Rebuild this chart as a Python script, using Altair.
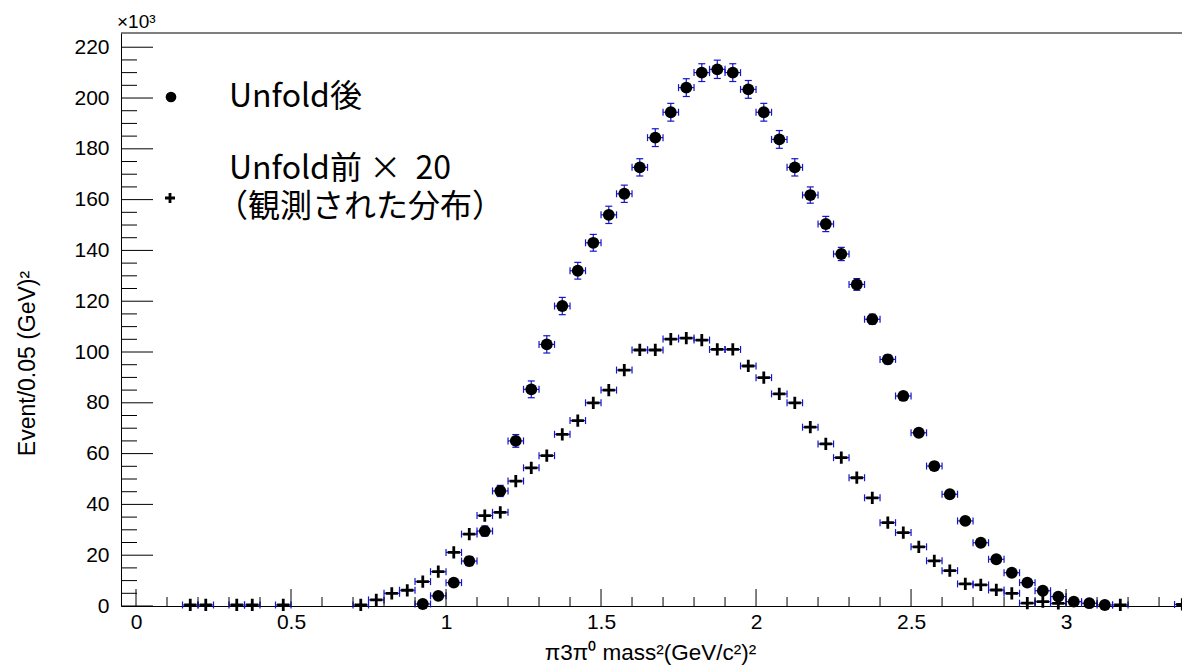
import altair as alt
import pandas as pd

# ---------------- data ----------------
# Unfold後 (filled circles), bin width 0.05, values in units of 10^3
x_after = [0.925, 0.975, 1.025, 1.075, 1.125, 1.175, 1.225, 1.275, 1.325, 1.375,
           1.425, 1.475, 1.525, 1.575, 1.625, 1.675, 1.725, 1.775, 1.825, 1.875,
           1.925, 1.975, 2.025, 2.075, 2.125, 2.175, 2.225, 2.275, 2.325, 2.375,
           2.425, 2.475, 2.525, 2.575, 2.625, 2.675, 2.725, 2.775, 2.825, 2.875,
           2.925, 2.975, 3.025, 3.075, 3.125]
y_after = [0.8, 4.0, 9.2, 17.7, 29.5, 45.3, 65.0, 85.3, 103.0, 118.1,
           132.0, 143.0, 154.0, 162.3, 172.7, 184.4, 194.4, 204.1, 210.0, 211.3,
           210.0, 203.4, 194.4, 183.7, 172.7, 161.8, 150.4, 138.6, 126.6, 112.9,
           97.1, 82.7, 68.2, 55.1, 44.0, 33.5, 24.9, 18.4, 13.1, 9.2,
           6.0, 3.7, 1.7, 1.1, 0.4]
e_after = [0.6, 1.0, 1.5, 1.8, 2.0, 2.2, 2.5, 3.3, 3.4, 3.4,
           3.3, 3.3, 3.4, 3.4, 3.4, 3.5, 3.5, 3.5, 3.5, 3.6,
           3.5, 3.5, 3.5, 3.5, 3.4, 3.2, 3.0, 2.6, 2.3, 2.0,
           1.8, 1.6, 1.4, 1.3, 1.2, 1.0, 0.9, 0.8, 0.7, 0.6,
           0.5, 0.4, 0.3, 0.3, 0.2]

# Unfold前 × 20 (crosses)
x_before = [0.175, 0.225, 0.325, 0.375, 0.475, 0.725, 0.775, 0.825, 0.875, 0.925,
            0.975, 1.025, 1.075, 1.125, 1.175, 1.225, 1.275, 1.325, 1.375, 1.425,
            1.475, 1.525, 1.575, 1.625, 1.675, 1.725, 1.775, 1.825, 1.875, 1.925,
            1.975, 2.025, 2.075, 2.125, 2.175, 2.225, 2.275, 2.325, 2.375, 2.425,
            2.475, 2.525, 2.575, 2.625, 2.675, 2.725, 2.775, 2.825, 2.875, 2.925,
            2.975, 3.175, 3.375]
y_before = [0.4, 0.4, 0.4, 0.4, 0.4, 0.4, 2.4, 5.0, 6.2, 9.6,
            13.5, 21.1, 28.3, 35.6, 36.9, 49.2, 54.4, 59.2, 67.6, 73.0,
            80.0, 85.0, 92.9, 100.8, 100.8, 105.1, 105.5, 104.7, 101.0, 101.0,
            94.5, 89.9, 83.5, 80.0, 70.4, 63.8, 58.4, 50.5, 42.6, 32.8,
            28.9, 23.3, 17.8, 13.9, 8.7, 8.3, 6.3, 5.0, 1.1, 1.7,
            1.0, 0.4, 0.6]

HALF_BIN = 0.025

x_major = [0, 0.5, 1.0, 1.5, 2.0, 2.5, 3.0]
x_minor = [0.1, 0.2, 0.3, 0.4, 0.6, 0.7, 0.8, 0.9, 1.1, 1.2, 1.3, 1.4, 1.6, 1.7,
           1.8, 1.9, 2.1, 2.2, 2.3, 2.4, 2.6, 2.7, 2.8, 2.9, 3.1, 3.2, 3.3]
y_major = [0, 20, 40, 60, 80, 100, 120, 140, 160, 180, 200, 220]
y_minor = [v + d for v in range(0, 221, 20) for d in (5, 10, 15) if v + d < 225]

legend_after = "Unfold後"
legend_before = "Unfold前 ×\u00a0 20"
legend_before2 = "（観測された分布）"
x_title = "π3π⁰ mass²(GeV/c²)²"
y_title = "Event/0.05 (GeV)²"
exp_label = "×10³"

# ---------------- layout ----------------
W, H = 1061, 573
PAD_L, PAD_T = 121, 33
BLUE = "#1515cc"
ROOT_FONT = "Liberation Sans"
JP_FONT = "Noto Sans CJK JP"

xs = alt.Scale(domain=[-0.0484, 3.374], nice=False, zero=False)
ys = alt.Scale(domain=[0, 225.6], nice=False, zero=False)

x_axis = alt.Axis(values=x_major, format="~g", ticks=False, tickSize=0, grid=False,
                  labelFont=ROOT_FONT, labelFontSize=21, labelColor="black",
                  labelPadding=5, domainColor="black", domainWidth=1,
                  titleFont=ROOT_FONT, titleFontSize=22.5, titleFontWeight="normal",
                  titleColor="black", titleY=46, titleBaseline="middle",
                  titleX=529, titleAnchor="middle", labelFlush=False)
y_axis = alt.Axis(values=y_major, ticks=False, tickSize=0, grid=False,
                  labelFont=ROOT_FONT, labelFontSize=21, labelColor="black",
                  labelPadding=12, domainColor="black", domainWidth=1,
                  titleFont=ROOT_FONT, titleFontSize=23, titleFontWeight="normal",
                  titleColor="black", titleAngle=270, titleX=-94, titleY=330,
                  titleBaseline="middle", titleAlign="center", labelFlush=False)


def X(field):
    return alt.X(field, type="quantitative", scale=xs, axis=x_axis, title=x_title)


def Y(field):
    return alt.Y(field, type="quantitative", scale=ys, axis=y_axis, title=y_title)


da = pd.DataFrame({"x": x_after, "y": y_after, "e": e_after})
da["lo"] = da["x"] - HALF_BIN
da["hi"] = da["x"] + HALF_BIN
da["ylo"] = da["y"] - da["e"]
da["yhi"] = da["y"] + da["e"]

db = pd.DataFrame({"x": x_before, "y": y_before})
db["lo"] = db["x"] - HALF_BIN
db["hi"] = db["x"] + HALF_BIN

layers = []

# error bars (blue)
for d in (da, db):
    layers.append(alt.Chart(d).mark_rule(color=BLUE, strokeWidth=1.2).encode(
        x=X("lo"), x2="hi", y=Y("y")))
    layers.append(alt.Chart(d).mark_tick(color=BLUE, orient="vertical", size=7,
                                         thickness=1.2, opacity=1).encode(x=X("lo"), y=Y("y")))
    layers.append(alt.Chart(d).mark_tick(color=BLUE, orient="vertical", size=7,
                                         thickness=1.2, opacity=1).encode(x=X("hi"), y=Y("y")))
layers.append(alt.Chart(da).mark_rule(color=BLUE, strokeWidth=1.2).encode(
    x=X("x"), y=Y("ylo"), y2="yhi"))
layers.append(alt.Chart(da).mark_tick(color=BLUE, orient="horizontal", size=7,
                                      thickness=1.2, opacity=1).encode(x=X("x"), y=Y("ylo")))
layers.append(alt.Chart(da).mark_tick(color=BLUE, orient="horizontal", size=7,
                                      thickness=1.2, opacity=1).encode(x=X("x"), y=Y("yhi")))

# markers
CROSS = "M-1,0H1M0,-1V1"
layers.append(alt.Chart(db).mark_point(shape=CROSS, filled=False, size=150,
                                       strokeWidth=2.8, color="black", opacity=1).encode(
    x=X("x"), y=Y("y")))
layers.append(alt.Chart(da).mark_point(shape="circle", filled=True, size=140,
                                       color="black", opacity=1).encode(
    x=X("x"), y=Y("y")))

# inward ticks (ROOT style)
layers.append(alt.Chart(pd.DataFrame({"v": x_major})).mark_rule(color="black", strokeWidth=1).encode(
    x=X("v"), y=alt.value(H), y2=alt.value(H - 17)))
layers.append(alt.Chart(pd.DataFrame({"v": x_minor})).mark_rule(color="black", strokeWidth=1).encode(
    x=X("v"), y=alt.value(H), y2=alt.value(H - 9)))
layers.append(alt.Chart(pd.DataFrame({"v": y_major})).mark_rule(color="black", strokeWidth=1).encode(
    y=Y("v"), x=alt.value(0), x2=alt.value(32)))
layers.append(alt.Chart(pd.DataFrame({"v": y_minor})).mark_rule(color="black", strokeWidth=1).encode(
    y=Y("v"), x=alt.value(0), x2=alt.value(16)))

one = pd.DataFrame({"k": [0]})
# top frame line
layers.append(alt.Chart(one).mark_rule(color="black", strokeWidth=1).encode(
    x=alt.value(0), x2=alt.value(W), y=alt.value(0)))
# x10^3 multiplier
layers.append(alt.Chart(one).mark_text(font=ROOT_FONT, fontSize=19, color="black",
                                       align="left", baseline="alphabetic").encode(
    x=alt.value(-4), y=alt.value(-5), text=alt.value(exp_label)))

# legend
layers.append(alt.Chart(one).mark_point(shape="circle", filled=True, size=115,
                                        color="black", opacity=1).encode(
    x=alt.value(50), y=alt.value(64)))
layers.append(alt.Chart(one).mark_point(shape=CROSS, filled=False, size=100,
                                        strokeWidth=2.8, color="black", opacity=1).encode(
    x=alt.value(49), y=alt.value(165)))
layers.append(alt.Chart(one).mark_text(font=JP_FONT, fontSize=32, color="black",
                                       align="left", baseline="middle").encode(
    x=alt.value(108), y=alt.value(64), text=alt.value(legend_after)))
layers.append(alt.Chart(one).mark_text(font=JP_FONT, fontSize=32, color="black",
                                       align="left", baseline="middle").encode(
    x=alt.value(108), y=alt.value(136), text=alt.value(legend_before)))
layers.append(alt.Chart(one).mark_text(font=JP_FONT, fontSize=32, color="black",
                                       align="left", baseline="middle").encode(
    x=alt.value(95), y=alt.value(174), text=alt.value(legend_before2)))

chart = alt.layer(*layers).properties(
    width=W, height=H,
    autosize=alt.AutoSizeParams(type="none"),
    padding={"left": PAD_L, "top": PAD_T, "right": 0, "bottom": 672 - PAD_T - H},
    background="white",
).configure_view(stroke=None)

chart.save("out.html", embed_options={"renderer": "svg", "actions": False})
